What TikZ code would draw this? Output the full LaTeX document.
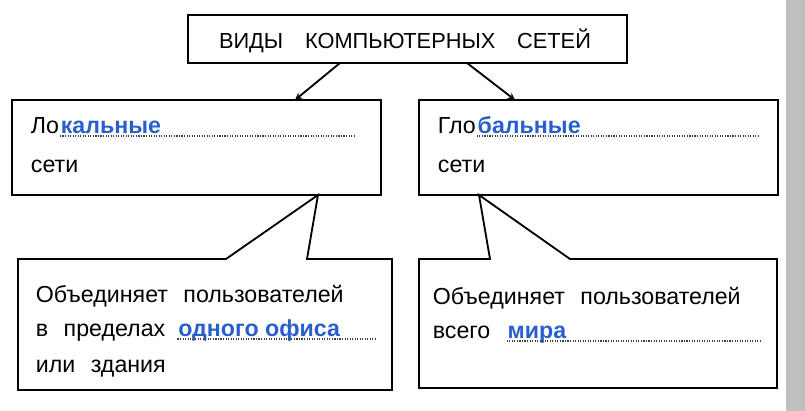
\documentclass[tikz,border=0pt]{standalone}
\usepackage{fontspec}
\setmainfont{Liberation Sans}
\usetikzlibrary{arrows}
\definecolor{inkblue}{RGB}{40,95,205}
\newcommand{\gap}{\hspace*{11pt}}
\tikzstyle{textline} = [anchor=base west, inner sep=0pt, font=\fontsize{16.5}{18}\selectfont]
\tikzstyle{answer} = [anchor=base west, inner sep=0pt, font=\fontsize{16.5}{18}\selectfont\bfseries, text=inkblue]
\tikzstyle{fillin} = [densely dotted, thick, black!75]

\begin{document}
\begin{tikzpicture}[x=0.025cm, y=-0.025cm, line width=1.3pt]
\useasboundingbox (0,0) rectangle (805,411);
\fill[black!25] (786,0) rectangle (805,411);

% top box
\draw (188,15) rectangle (627,63);
\node (top) at (405,41) [font=\fontsize{15.5}{17}\selectfont] {ВИДЫ\quad КОМПЬЮТЕРНЫХ\quad СЕТЕЙ};
\coordinate (topl) at (340,63);
\coordinate (topr) at (467,63);

% middle boxes
\draw (12,100) rectangle (381,195);
\draw (419,100) rectangle (778,195);
\coordinate (locin) at (295,100);
\coordinate (globin) at (515,100);
\draw[-stealth] (topl) -- (locin);
\draw[-stealth] (topr) -- (globin);

\node (loc1) [textline] at (30,134) {Ло};
\node (loc2) [answer] at (loc1.base east) {кальные};
\draw[fillin] (loc1.base east) ++(0,2) -- (355,136);
\node (loc3) [textline] at (30,173) {сети};

\node (glob1) [textline] at (437,134) {Гло};
\node (glob2) [answer] at (glob1.base east) {бальные};
\draw[fillin] (glob1.base east) ++(0,2) -- (760,136);
\node (glob3) [textline] at (437,173) {сети};

% bottom callouts
\coordinate (locfoot) at (318,195);
\coordinate (globfoot) at (479,195);
\draw (226,259) -- (locfoot) -- (307,259) -- (392,259) -- (392,390) -- (18,390) -- (18,259) -- cycle;
\draw (490,259) -- (globfoot) -- (570,259) -- (777,259) -- (777,388) -- (419,388) -- (419,259) -- cycle;

\node (l1) [textline] at (35,303) {Объединяет\gap пользователей};
\node (l2) [textline] at (35,337) {в\gap пределах\hspace*{8pt}};
\node (l2b) [answer] at (l2.base east) {одного офиса};
\draw[fillin] (l2.base east) ++(0,2) -- (376,339);
\node (l3) [textline] at (35,373) {или\gap здания};

\node (r1) [textline] at (432,305) {Объединяет\gap пользователей};
\node (r2) [textline] at (432,339) {всего\gap};
\node (r2b) [answer] at (r2.base east) {мира};
\draw[fillin] (r2.base east) ++(0,2) -- (760,341);
\end{tikzpicture}
\end{document}
